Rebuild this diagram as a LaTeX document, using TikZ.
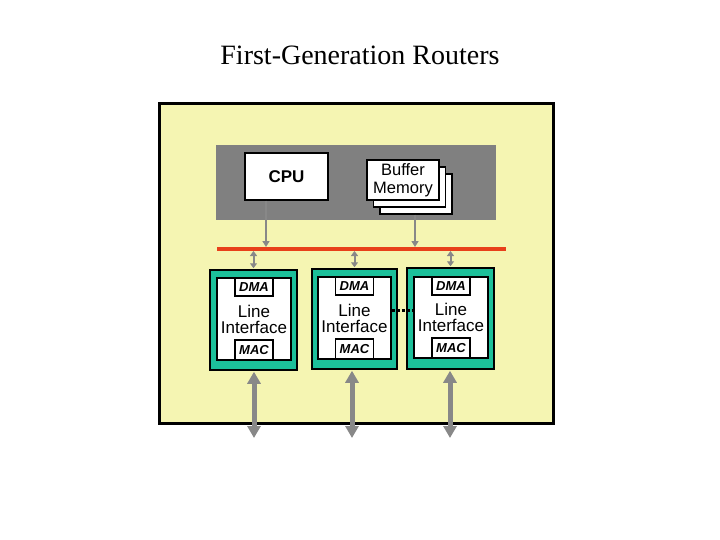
\documentclass[tikz,border=0pt]{standalone}
\usepackage{fontspec}
\setmainfont{Liberation Serif}
\setsansfont{Liberation Sans}
\usetikzlibrary{arrows.meta,positioning,calc}
\definecolor{bgyellow}{RGB}{245,245,178}
\definecolor{boxgray}{RGB}{128,128,128}
\definecolor{arrgray}{RGB}{136,136,136}
\definecolor{busred}{RGB}{232,64,26}
\definecolor{cardteal}{RGB}{28,192,154}
\tikzset{
  whitebox/.style={draw=black,fill=white,line width=1.5pt,inner sep=0pt,font=\sffamily},
  card/.style={draw=black,fill=cardteal,line width=1.5pt,inner sep=0pt},
  inner/.style={draw=black,fill=white,line width=1.5pt,inner sep=0pt,font=\sffamily\fontsize{17}{16}\selectfont,align=center},
  small/.style={draw=black,fill=white,line width=1.5pt,inner sep=0pt,minimum width=38pt,font=\sffamily\bfseries\itshape\fontsize{13}{13}\selectfont},
  smallarr/.style={draw=arrgray,line width=2pt,-{Triangle[length=6pt,width=7pt]}},
  smalldbl/.style={draw=arrgray,line width=2pt,{Triangle[length=5pt,width=7pt]}-{Triangle[length=5pt,width=7pt]}},
  bigdbl/.style={draw=arrgray,line width=5pt,{Triangle[length=12pt,width=13pt]}-{Triangle[length=12pt,width=13pt]}}
}
\begin{document}
\begin{tikzpicture}[x=1pt,y=-1pt]
\useasboundingbox (0,0) rectangle (720,540);
\node[font=\fontsize{28}{30}\selectfont] (title) at (360,55) {First-Generation Routers};
\node[draw=black,fill=bgyellow,line width=3pt,minimum width=394pt,minimum height=319pt,inner sep=0pt] (outer) at (356,263.5) {};
\node[fill=boxgray,minimum width=280pt,minimum height=75pt,inner sep=0pt] (cpuarea) at (356,182.5) {};
\node[whitebox,minimum width=83pt,minimum height=47pt,font=\sffamily\bfseries\fontsize{17}{17}\selectfont] (cpu) at (286.5,176.5) {CPU};
\node[whitebox,minimum width=72pt,minimum height=40pt] (buf3) at (416,194) {};
\node[whitebox,minimum width=72pt,minimum height=40pt] (buf2) at (409.5,187) {};
\node[whitebox,minimum width=72pt,minimum height=40pt,align=center,font=\sffamily\fontsize{16.5}{18}\selectfont] (buf1) at (403,180) {Buffer\\Memory};
\coordinate (busl) at (217,249);
\coordinate (busr) at (506,249);
\draw[busred,line width=4pt] (busl) -- (busr);
\coordinate (cpuarr) at (266,247);
\coordinate (bufarr) at (415,247);
\draw[smallarr] (cpu.south -| cpuarr) -- (cpuarr);
\draw[smallarr] (buf3.south -| bufarr) -- (bufarr);
% cards
\node[card,minimum width=87pt,minimum height=100pt] (card1) at (253.5,320) {};
\node[card,minimum width=85pt,minimum height=100pt] (card2) at (354.5,319) {};
\node[card,minimum width=87pt,minimum height=101pt] (card3) at (450.5,318.5) {};
\node[inner,minimum width=74pt,minimum height=82pt] (in1) at (254,319) {Line\\Interface};
\node[inner,minimum width=73pt,minimum height=82pt] (in2) at (354.5,318) {Line\\Interface};
\node[inner,minimum width=74pt,minimum height=81pt] (in3) at (451,317.5) {Line\\Interface};
\node[small,minimum height=18pt,anchor=north] (dma1) at (in1.north) {DMA};
\node[small,minimum height=18pt,anchor=north] (dma2) at (in2.north) {DMA};
\node[small,minimum height=18pt,anchor=north] (dma3) at (in3.north) {DMA};
\node[small,minimum height=20pt,anchor=south] (mac1) at (in1.south) {MAC};
\node[small,minimum height=20pt,anchor=south] (mac2) at (in2.south) {MAC};
\node[small,minimum height=20pt,anchor=south] (mac3) at (in3.south) {MAC};
% bus to cards
\draw[smalldbl] ($(card1.north |- busl)+(0,2)$) -- ($(card1.north)+(0,-1)$);
\draw[smalldbl] ($(card2.north |- busl)+(0,2)$) -- ($(card2.north)+(0,-1)$);
\draw[smalldbl] ($(card3.north |- busl)+(0,2)$) -- ($(card3.north)+(0,-1)$);
% dotted link
\coordinate (dotl) at (390,310);
\draw[black,line width=3pt,dash pattern=on 3pt off 2pt] (in2.east |- dotl) -- (in3.west |- dotl);
% external arrows
\coordinate (ext1) at (254,438);
\coordinate (ext2) at (352,438);
\coordinate (ext3) at (450,438);
\draw[bigdbl] ($(card1.south -| ext1)+(0,1)$) -- (ext1);
\draw[bigdbl] ($(card2.south -| ext2)+(0,1)$) -- (ext2);
\draw[bigdbl] ($(card3.south -| ext3)+(0,1)$) -- (ext3);
\end{tikzpicture}
\end{document}
